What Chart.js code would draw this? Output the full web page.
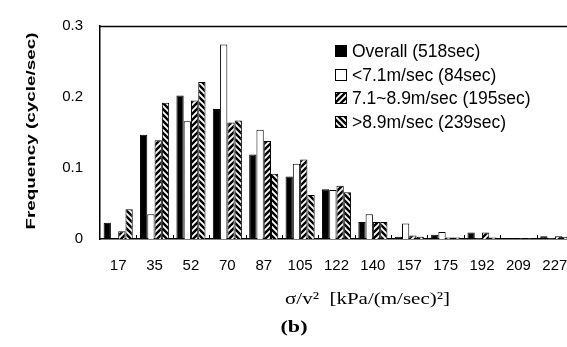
<!DOCTYPE html>
<html><head><meta charset="utf-8">
<script src="https://cdn.jsdelivr.net/npm/chart.js@4.4.1/dist/chart.umd.min.js"></script>
<style>
html,body{margin:0;padding:0;background:#fff;overflow:hidden;width:567px;height:347px}
#wrap{position:absolute;left:0;top:0;width:600px;height:347px}
</style></head>
<body><div id="wrap"><canvas id="c" width="600" height="347"></canvas></div>
<script>
const categories = ['17','35','52','70','87','105','122','140','157','175','192','209','227'];
const overall  = [0.023, 0.147, 0.202, 0.183, 0.119, 0.088, 0.070, 0.024, 0.003, 0.006, 0.009, 0.001, 0.004];
const below71  = [0.000, 0.035, 0.166, 0.274, 0.154, 0.106, 0.069, 0.035, 0.022, 0.010, 0.001, 0.000, 0.001];
const mid7189  = [0.011, 0.139, 0.195, 0.164, 0.138, 0.112, 0.075, 0.024, 0.005, 0.002, 0.009, 0.001, 0.004];
const above89  = [0.042, 0.192, 0.221, 0.167, 0.092, 0.062, 0.066, 0.024, 0.003, 0.002, 0.002, 0.001, 0.003];
const seriesNames = ['Overall (518sec)', '<7.1m/sec (84sec)', '7.1~8.9m/sec (195sec)', '>8.9m/sec (239sec)'];
const yTicks = [0, 0.1, 0.2, 0.3];
const xTitle = 'σ/v²  [kPa/(m/sec)²]';
const yTitle = 'Frequency (cycle/sec)';
const caption = '(b)';

const canvas = document.getElementById('c');
const mainCtx = canvas.getContext('2d');
function hatch(dir){
  const t = document.createElement('canvas'); t.width = 6; t.height = 6;
  const g = t.getContext('2d');
  g.fillStyle = '#fff'; g.fillRect(0,0,6,6);
  g.strokeStyle = '#000'; g.lineWidth = 2.4; g.beginPath();
  if (dir > 0) { g.moveTo(-3,3); g.lineTo(3,-3); g.moveTo(0,6); g.lineTo(6,0); g.moveTo(3,9); g.lineTo(9,3); }
  else { g.moveTo(-3,3); g.lineTo(3,9); g.moveTo(0,0); g.lineTo(6,6); g.moveTo(3,-3); g.lineTo(9,3); }
  g.stroke();
  return mainCtx.createPattern(t, 'repeat');
}
const fills = ['#000', '#fff', hatch(1), hatch(-1)];
const seriesData = [overall, below71, mid7189, above89];

function drawStretched(ctx, text, font, cx, cy, targetW, rot){
  ctx.save();
  ctx.font = font;
  const w = ctx.measureText(text).width;
  ctx.translate(cx, cy);
  if (rot) ctx.rotate(rot);
  ctx.scale(targetW / w, 1);
  ctx.textAlign = 'center'; ctx.textBaseline = 'middle'; ctx.fillStyle = '#000';
  ctx.fillText(text, 0, 0);
  ctx.restore();
}

const decor = {
  id: 'decor',
  afterDraw(chart){
    const ctx = chart.ctx, a = chart.chartArea;
    ctx.save();
    ctx.strokeStyle = '#000'; ctx.lineWidth = 1.5;
    ctx.beginPath(); ctx.moveTo(a.left, a.top + 0.5); ctx.lineTo(a.right, a.top + 0.5); ctx.stroke();
    ctx.lineWidth = 1;
    const n = categories.length, step = (a.right - a.left) / n;
    ctx.beginPath();
    for (let i = 1; i < n; i++) {
      const x = Math.round(a.left + i * step) + 0.5;
      ctx.moveTo(x, a.bottom); ctx.lineTo(x, a.bottom - 4);
    }
    ctx.stroke();
    // legend
    ctx.font = '17.5px "Liberation Sans", Arial, sans-serif';
    ctx.textBaseline = 'middle'; ctx.textAlign = 'left';
    for (let i = 0; i < seriesNames.length; i++) {
      const y = 51 + i * 23.7;
      ctx.fillStyle = fills[i];
      ctx.fillRect(335, Math.round(y - 6), 12, 12);
      ctx.strokeStyle = '#000'; ctx.lineWidth = 1;
      ctx.strokeRect(335.5, Math.round(y - 6) + 0.5, 11, 11);
      ctx.fillStyle = '#000';
      ctx.fillText(seriesNames[i], 352, y + 1);
    }
    ctx.restore();
    drawStretched(ctx, yTitle, 'bold 13.5px "Liberation Sans", Arial, sans-serif', 31, 131, 197, -Math.PI/2);
    drawStretched(ctx, xTitle, '17px "Liberation Serif", "Times New Roman", serif', 367.5, 300, 165, 0);
    drawStretched(ctx, caption, 'bold 17px "Liberation Serif", "Times New Roman", serif', 294, 328, 27, 0);
  }
};

new Chart(canvas, {
  type: 'bar',
  data: {
    labels: categories,
    datasets: seriesData.map((d, i) => ({
      label: seriesNames[i],
      data: d,
      backgroundColor: fills[i],
      borderColor: '#000',
      borderWidth: 1,
      categoryPercentage: 0.8,
      barPercentage: 1.0
    }))
  },
  options: {
    responsive: false,
    animation: false,
    events: [],
    layout: { padding: { left: 0, top: 13, right: 27, bottom: 0 } },
    plugins: { legend: { display: false }, tooltip: { enabled: false }, title: { display: false } },
    scales: {
      x: {
        grid: { display: false, drawTicks: false },
        border: { display: true, color: '#000', width: 1.5 },
        ticks: { color: '#000', font: { family: '"Liberation Sans", Arial, sans-serif', size: 15 }, padding: 18, maxRotation: 0, autoSkip: false },
        afterFit(s){ s.height = 108; }
      },
      y: {
        min: 0, max: 0.3,
        grid: { display: false, drawTicks: false },
        border: { display: true, color: '#000', width: 1.5 },
        ticks: { color: '#000', font: { family: '"Liberation Sans", Arial, sans-serif', size: 15 }, padding: 17,
                 callback: v => String(Number(v.toFixed(1))) },
        afterBuildTicks(s){ s.ticks = yTicks.map(v => ({ value: v })); },
        afterFit(s){ s.width = 100; }
      }
    }
  },
  plugins: [decor]
});
</script>
</body></html>
